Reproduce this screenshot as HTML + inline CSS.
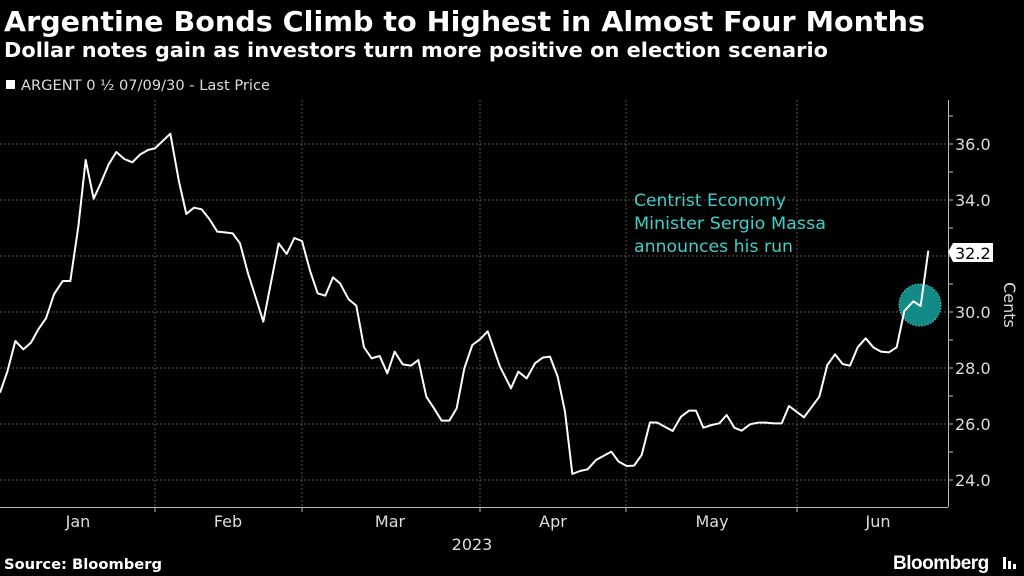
<!DOCTYPE html>
<html><head><meta charset="utf-8"><style>
body{margin:0;background:#000;width:1024px;height:576px;overflow:hidden;font-family:"Liberation Sans","DejaVu Sans",sans-serif;color:#fff}
</style></head><body>
<svg width="1024" height="576" xmlns="http://www.w3.org/2000/svg" style="position:absolute;left:0;top:0">
<text x="4" y="31" font-size="28" font-weight="bold" fill="#fff" font-family="DejaVu Sans, sans-serif" textLength="921" lengthAdjust="spacingAndGlyphs">Argentine Bonds Climb to Highest in Almost Four Months</text>
<text x="4" y="57" font-size="20" font-weight="bold" fill="#fff" font-family="DejaVu Sans, sans-serif" textLength="824" lengthAdjust="spacingAndGlyphs">Dollar notes gain as investors turn more positive on election scenario</text>
<rect x="6" y="80" width="9" height="9" fill="#fff"/>
<text x="21" y="90" font-size="14" fill="#ddd" font-family="DejaVu Sans, sans-serif" textLength="249" lengthAdjust="spacingAndGlyphs">ARGENT 0 ½ 07/09/30 - Last Price</text>
<g stroke="#555" stroke-dasharray="2,2" stroke-width="1">
<line x1="0" y1="144" x2="948" y2="144"/><line x1="0" y1="200" x2="948" y2="200"/><line x1="0" y1="256" x2="948" y2="256"/><line x1="0" y1="312" x2="948" y2="312"/><line x1="0" y1="368" x2="948" y2="368"/><line x1="0" y1="424" x2="948" y2="424"/><line x1="0" y1="480" x2="948" y2="480"/>
<line x1="155" y1="100" x2="155" y2="507"/><line x1="302" y1="100" x2="302" y2="507"/><line x1="480" y1="100" x2="480" y2="507"/><line x1="626" y1="100" x2="626" y2="507"/><line x1="797" y1="100" x2="797" y2="507"/>
</g>
<line x1="0" y1="507.5" x2="948" y2="507.5" stroke="#bbb"/>
<line x1="948.5" y1="100" x2="948.5" y2="507" stroke="#bbb"/>
<g stroke="#bbb"><line x1="948" y1="116" x2="953" y2="116"/><line x1="948" y1="144" x2="953" y2="144"/><line x1="948" y1="172" x2="953" y2="172"/><line x1="948" y1="200" x2="953" y2="200"/><line x1="948" y1="228" x2="953" y2="228"/><line x1="948" y1="256" x2="953" y2="256"/><line x1="948" y1="284" x2="953" y2="284"/><line x1="948" y1="312" x2="953" y2="312"/><line x1="948" y1="340" x2="953" y2="340"/><line x1="948" y1="368" x2="953" y2="368"/><line x1="948" y1="396" x2="953" y2="396"/><line x1="948" y1="424" x2="953" y2="424"/><line x1="948" y1="452" x2="953" y2="452"/><line x1="948" y1="480" x2="953" y2="480"/>
<line x1="155" y1="507" x2="155" y2="512"/><line x1="302" y1="507" x2="302" y2="512"/><line x1="480" y1="507" x2="480" y2="512"/><line x1="626" y1="507" x2="626" y2="512"/><line x1="797" y1="507" x2="797" y2="512"/></g>
<g font-size="16" fill="#ddd" font-family="DejaVu Sans, sans-serif">
<text x="955" y="150">36.0</text><text x="955" y="206">34.0</text><text x="955" y="318">30.0</text><text x="955" y="374">28.0</text><text x="955" y="430">26.0</text><text x="955" y="486">24.0</text>
<text x="78" y="527" text-anchor="middle">Jan</text><text x="228" y="527" text-anchor="middle">Feb</text><text x="390" y="527" text-anchor="middle">Mar</text><text x="553" y="527" text-anchor="middle">Apr</text><text x="712" y="527" text-anchor="middle">May</text><text x="878" y="527" text-anchor="middle">Jun</text>
<text x="472" y="550" text-anchor="middle">2023</text>
<text transform="translate(1004,305) rotate(90)" text-anchor="middle">Cents</text>
</g>
<circle cx="920" cy="305" r="21" fill="#138a85" stroke="#3fd0c8" stroke-dasharray="1.5,1.5"/>
<g fill="none" stroke="#fff" stroke-width="6" stroke-linejoin="round" transform="translate(0,100) scale(0.33333)">
<polyline points="0,878 22,815 46,723 70,748 93,728 115,688 138,655 162,583 188,543 211,543 235,380 257,180 281,296 303,248 326,193 349,156 373,177 397,187 421,163 444,150 465,145 489,122 511,101 537,245 559,342 582,323 605,328 628,357 652,395 675,397 698,400 720,430 744,520 767,592 790,665 836,430 860,462 883,414 906,423 930,512 953,580 976,587 999,532 1020,550 1046,598 1069,617 1092,742 1115,775 1139,768 1162,820 1184,755 1208,793 1233,797 1255,780 1279,890 1302,925 1325,962 1348,962 1370,925 1393,805 1417,735 1440,718 1463,694 1500,800"/>
</g>
<g fill="none" stroke="#fff" stroke-width="6" stroke-linejoin="round" transform="translate(500,100) scale(0.33333)">
<polyline points="0,800 33,865 55,815 80,835 105,790 128,773 150,770 173,830 195,935 217,1122 240,1113 263,1108 288,1080 334,1055 356,1085 380,1098 402,1097 425,1065 450,967 472,968 518,993 543,950 567,932 588,932 610,983 635,975 658,970 680,945 703,983 725,992 750,973 775,968 797,968 822,970 845,970 867,918 912,952 958,890 982,795 1005,763 1028,792 1050,797 1073,742 1097,715 1120,742 1143,755 1167,757 1190,742 1213,633 1240,604 1262,618 1285,452"/>
</g>
<polygon points="948,252 953,243 993,243 993,262 953,262" fill="#fff"/>
<text x="955" y="259" font-size="16" fill="#000" font-family="DejaVu Sans, sans-serif">32.2</text>
<g font-size="17" fill="#3fd0c8" font-family="DejaVu Sans, sans-serif">
<text x="634" y="206" textLength="152" lengthAdjust="spacingAndGlyphs">Centrist Economy</text><text x="634" y="229" textLength="192" lengthAdjust="spacingAndGlyphs">Minister Sergio Massa</text><text x="634" y="252" textLength="159" lengthAdjust="spacingAndGlyphs">announces his run</text>
</g>
<text x="4" y="569" font-size="14" font-weight="bold" fill="#fff" font-family="DejaVu Sans, sans-serif" textLength="158" lengthAdjust="spacingAndGlyphs">Source: Bloomberg</text>
<text x="893" y="569" font-size="19" font-weight="bold" fill="#fff" font-family="Liberation Sans, sans-serif" letter-spacing="-0.5">Bloomberg</text>
<rect x="1003" y="557" width="3" height="12" fill="#fff"/><rect x="1008" y="561" width="3" height="8" fill="#fff"/><rect x="1013" y="564" width="3" height="5" fill="#fff"/>
</svg>
</body></html>
